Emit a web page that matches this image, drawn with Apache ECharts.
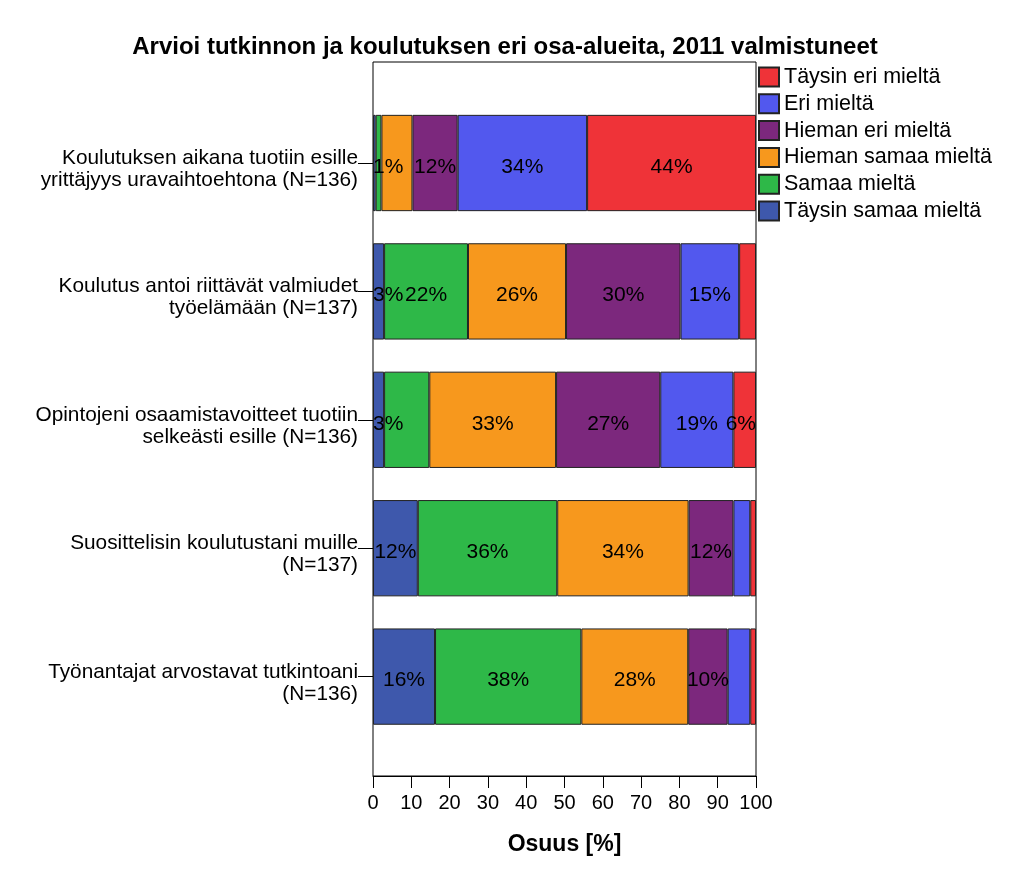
<!DOCTYPE html>
<html>
<head>
<meta charset="utf-8">
<script src="https://cdn.jsdelivr.net/npm/echarts@6/dist/echarts.min.js"></script>
<style>
  html, body { margin: 0; padding: 0; background: #fff; }
  #chart { width: 1010px; height: 873px; }
</style>
</head>
<body>
<div id="chart"></div>
<script>
// ---- Data (percent shares) ----
const categories = [
  'Koulutuksen aikana tuotiin esille\nyrittäjyys uravaihtoehtona (N=136)',
  'Koulutus antoi riittävät valmiudet\ntyöelämään (N=137)',
  'Opintojeni osaamistavoitteet tuotiin\nselkeästi esille (N=136)',
  'Suosittelisin koulutustani muille\n(N=137)',
  'Työnantajat arvostavat tutkintoani\n(N=136)'
];
const seriesNames = [
  'Täysin samaa mieltä',
  'Samaa mieltä',
  'Hieman samaa mieltä',
  'Hieman eri mieltä',
  'Eri mieltä',
  'Täysin eri mieltä'
];
const taysinSamaa = [0.7, 2.9, 2.9, 11.7, 16.2];
const samaa       = [1.5, 21.9, 11.8, 36.4, 38.2];
const hiemanSamaa = [8.1, 25.6, 33.1, 34.3, 27.9];
const hiemanEri   = [11.8, 29.9, 27.2, 11.7, 10.3];
const eri         = [33.8, 15.3, 19.1, 4.4, 5.9];
const taysinEri   = [44.1, 4.4, 5.9, 1.5, 1.5];
const seriesValues = [taysinSamaa, samaa, hiemanSamaa, hiemanEri, eri, taysinEri];
// rows whose value label is not shown, per series index
const hiddenLabels = { 1: [0, 2], 2: [0], 4: [3, 4], 5: [1, 3, 4] };

// ---- Styles ----
const colors = ['#3E58AC', '#2EB848', '#F7981D', '#7C287D', '#5258EE', '#EF3338'];
const FONT = '"Liberation Sans", Arial, sans-serif';

const series = seriesValues.map((vals, si) => ({
  name: seriesNames[si],
  type: 'bar',
  stack: 'total',
  xAxisIndex: 1,
  yAxisIndex: 1,
  barWidth: '75%',
  itemStyle: { color: colors[si], borderColor: '#222', borderWidth: 1 },
  label: {
    show: true,
    position: 'inside',
    offset: [0, 4],
    color: '#000',
    fontFamily: FONT,
    fontSize: 21,
    formatter: p => Math.round(p.value) + '%'
  },
  data: vals.map((v, ri) => {
    const item = { value: v };
    const hidden = (hiddenLabels[si] || []).indexOf(ri) >= 0;
    if (hidden) {
      item.label = { show: false };
    } else if (si === 0 && v < 5) {
      item.label = { position: 'insideLeft', distance: 0 };
    } else if (si === seriesValues.length - 1 && v < 8) {
      item.label = { position: 'insideRight', distance: 0 };
    }
    return item;
  })
}));

const chart = echarts.init(document.getElementById('chart'), null, { renderer: 'canvas' });
chart.setOption({
  animation: false,
  backgroundColor: '#fff',
  title: {
    text: 'Arvioi tutkinnon ja koulutuksen eri osa-alueita, 2011 valmistuneet',
    left: 'center',
    top: 35,
    padding: 0,
    textStyle: { fontFamily: FONT, fontSize: 24, fontWeight: 'bold', color: '#000' }
  },
  legend: {
    orient: 'vertical',
    left: 758,
    top: 66,
    padding: 0,
    itemWidth: 20,
    itemHeight: 19,
    itemGap: 4.8,
    icon: 'rect',
    data: seriesNames.slice().reverse(),
    textStyle: { fontFamily: FONT, fontSize: 21.5, color: '#000' }
  },
  grid: [
    { left: 373, right: 254, top: 62, bottom: 97, show: true, borderColor: '#000', borderWidth: 1, backgroundColor: 'transparent' },
    { left: 373, right: 254, top: 98.8, height: 642 },
    { left: 373, right: 254, top: 105, height: 642 }
  ],
  xAxis: [
    {
      gridIndex: 0, type: 'value', min: 0, max: 100, interval: 10,
      axisLine: { show: true, lineStyle: { color: '#000', width: 1 } },
      axisTick: { show: true, length: 12, lineStyle: { color: '#000' } },
      axisLabel: { color: '#000', fontFamily: FONT, fontSize: 20, margin: 17 },
      splitLine: { show: false },
      name: 'Osuus [%]',
      nameLocation: 'middle',
      nameGap: 57,
      nameTextStyle: { fontFamily: FONT, fontSize: 23, fontWeight: 'bold', color: '#000' }
    },
    { gridIndex: 1, type: 'value', min: 0, max: 100, show: false },
    { gridIndex: 2, type: 'value', min: 0, max: 100, show: false }
  ],
  yAxis: [
    { gridIndex: 0, type: 'value', min: 0, max: 1, show: false },
    {
      gridIndex: 1, type: 'category', data: categories, inverse: true,
      axisLine: { show: false },
      axisTick: { show: true, alignWithLabel: true, length: 15, lineStyle: { color: '#000' } },
      axisLabel: { show: false },
      splitLine: { show: false }
    },
    {
      gridIndex: 2, type: 'category', data: categories, inverse: true,
      axisLine: { show: false },
      axisTick: { show: false },
      axisLabel: { color: '#000', fontFamily: FONT, fontSize: 20.8, lineHeight: 22, margin: 15 },
      splitLine: { show: false }
    }
  ],
  series: series
});
</script>
</body>
</html>
